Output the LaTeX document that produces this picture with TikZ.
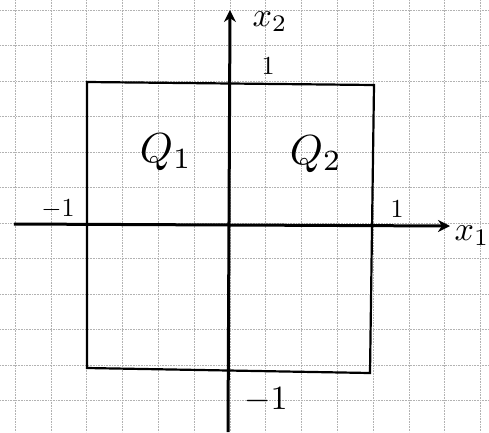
\documentclass[tikz,border=0pt]{standalone}
\usepackage{graphicx}
\usetikzlibrary{arrows.meta}
\begin{document}
\begin{tikzpicture}[x=1pt,y=-1pt,
  gridline/.style={gray!60,line width=0.6pt,densely dotted},
  axis/.style={line width=3pt,-{Stealth[length=12pt,width=12pt]}},
  boxline/.style={line width=2.2pt},
  lbl/.style={inner sep=0pt}]
\useasboundingbox (0,0) rectangle (489,432);
\fill[white] (0,0) rectangle (489,432);
\foreach \i in {0,...,13} \draw[gridline] ({15+35.8*\i},0) -- ({15+35.8*\i},432);
\foreach \j in {0,...,11} \draw[gridline] (0,{10+35.5*\j}) -- (489,{10+35.5*\j});
% axes
\coordinate (xs) at (14,224);
\coordinate (xe) at (450,226);
\coordinate (ys) at (228,432);
\coordinate (ye) at (230,10);
\draw[axis] (xs) -- (xe);
\draw[axis] (ys) -- (ye);
% square
\draw[boxline] (87,82) -- (374,85) -- (370,373) -- (87,368) -- cycle;
% labels
\node[lbl] (x2) at (270,22) {\scalebox{3.4}{$x_2$}};
\node[lbl] (x1) at (472,236) {\scalebox{3.4}{$x_1$}};
\node[lbl] (t1) at (268,66) {\scalebox{2.6}{$1$}};
\node[lbl] (tr) at (397,209) {\scalebox{2.6}{$1$}};
\node[lbl] (tl) at (58,209) {\scalebox{2.6}{$-1$}};
\node[lbl] (tb) at (266,400) {\scalebox{3.4}{$-1$}};
\node[lbl] (q1) at (166,152) {\scalebox{4.2}{$Q_1$}};
\node[lbl] (q2) at (316,154) {\scalebox{4.2}{$Q_2$}};
\end{tikzpicture}
\end{document}
